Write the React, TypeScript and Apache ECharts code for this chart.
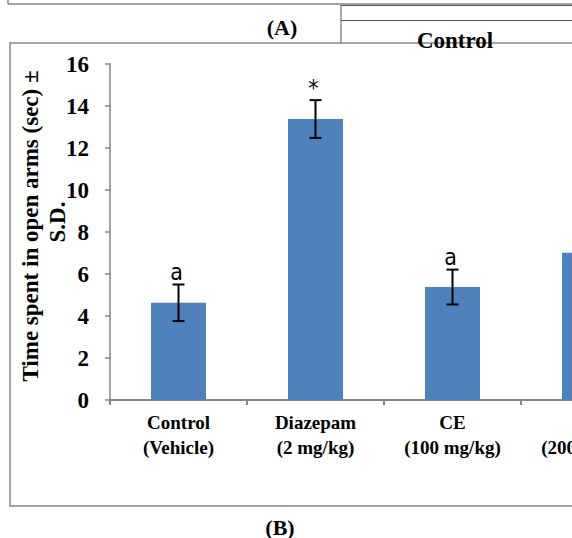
import React, { useEffect, useRef } from "react";
import * as echarts from "echarts";

const categories = ["Control\n(Vehicle)", "Diazepam\n(2 mg/kg)", "CE\n(100 mg/kg)", "CE\n(200 mg/kg)"];
const means = [4.63, 13.38, 5.38, 7.01];
const sds = [0.87, 0.9, 0.83, 0.85];
const sigLabels = ["a", "*", "a", ""];
const yTicks = { min: 0, max: 16, interval: 2 };

const SERIF = "'Liberation Serif', 'Times New Roman', serif";
const SANS = "'Liberation Sans Narrow', 'DejaVu Sans Condensed', 'Noto Sans', sans-serif";
const GRAY = "#868686";

export default function App() {
  const ref = useRef<HTMLDivElement>(null);
  useEffect(() => {
    if (!ref.current) return;
    const chart = echarts.init(ref.current, null, { renderer: "svg" });
    const errData = means.map((m, i) => [i, m, sds[i], sigLabels[i]]);
    chart.setOption({
      animation: false,
      backgroundColor: "#ffffff",
      grid: { left: 110, top: 64, width: 548, height: 336, containLabel: false },
      xAxis: {
        type: "category",
        data: categories,
        boundaryGap: true,
        axisLine: { lineStyle: { color: GRAY, width: 2 } },
        axisTick: { show: true, length: 5, lineStyle: { color: GRAY, width: 2 } },
        axisLabel: {
          interval: 0,
          margin: 10,
          fontFamily: SERIF,
          fontWeight: "bold",
          fontSize: 19,
          lineHeight: 25,
          color: "#000",
        },
      },
      yAxis: {
        type: "value",
        min: yTicks.min,
        max: yTicks.max,
        interval: yTicks.interval,
        axisLine: { show: true, lineStyle: { color: GRAY, width: 1.5 } },
        axisTick: { show: true, length: 5, lineStyle: { color: GRAY, width: 1.5 } },
        splitLine: { show: false },
        axisLabel: {
          margin: 21,
          fontFamily: SERIF,
          fontWeight: "bold",
          fontSize: 23,
          color: "#000",
        },
      },
      series: [
        {
          type: "bar",
          data: means,
          barWidth: 55,
          itemStyle: { color: "#4F81BD" },
        },
        {
          type: "custom",
          data: errData,
          z: 10,
          renderItem: (params: any, api: any) => {
            const idx = api.value(0);
            const m = api.value(1);
            const sd = api.value(2);
            const lab = sigLabels[params.dataIndex];
            const top = api.coord([idx, m + sd]);
            const bot = api.coord([idx, m - sd]);
            const half = 6;
            const style = { stroke: "#000", lineWidth: 2 };
            return {
              type: "group",
              children: [
                { type: "line", shape: { x1: top[0], y1: top[1], x2: bot[0], y2: bot[1] }, style },
                { type: "line", shape: { x1: top[0] - half, y1: top[1], x2: top[0] + half, y2: top[1] }, style },
                { type: "line", shape: { x1: bot[0] - half, y1: bot[1], x2: bot[0] + half, y2: bot[1] }, style },
                {
                  type: "text",
                  x: top[0] - 2,
                  y: top[1] - 1,
                  style: {
                    text: lab,
                    fill: "#000",
                    font: `23px ${SANS}`,
                    align: "center",
                    verticalAlign: "bottom",
                  },
                },
              ],
            };
          },
        },
      ],
      graphic: [
        { type: "line", shape: { x1: 8, y1: 4, x2: 700, y2: 4 }, style: { stroke: GRAY, lineWidth: 1.5 } },
        { type: "line", shape: { x1: 8, y1: 0, x2: 8, y2: 4 }, style: { stroke: GRAY, lineWidth: 1.5 } },
        { type: "line", shape: { x1: 341, y1: 5, x2: 341, y2: 43 }, style: { stroke: "#555", lineWidth: 1 } },
        { type: "line", shape: { x1: 341, y1: 5.5, x2: 700, y2: 5.5 }, style: { stroke: "#555", lineWidth: 1 } },
        { type: "line", shape: { x1: 341, y1: 20.5, x2: 700, y2: 20.5 }, style: { stroke: "#555", lineWidth: 1 } },
        {
          type: "text",
          x: 282,
          y: 27,
          style: { text: "(A)", font: `bold 22px ${SERIF}`, fill: "#000", align: "center", verticalAlign: "middle" },
        },
        {
          type: "rect",
          shape: { x: 10, y: 43, width: 680, height: 463 },
          style: { fill: "none", stroke: GRAY, lineWidth: 1.5 },
          z: 0,
        },
        {
          type: "text",
          x: 455,
          y: 40,
          z: 100,
          style: { text: "Control", font: `bold 23px ${SERIF}`, fill: "#000", align: "center", verticalAlign: "middle" },
        },
        {
          type: "text",
          x: 280,
          y: 527,
          style: { text: "(B)", font: `bold 22px ${SERIF}`, fill: "#000", align: "center", verticalAlign: "middle" },
        },
        {
          type: "text",
          x: 30,
          y: 226,
          rotation: Math.PI / 2,
          style: {
            text: "Time spent in open arms (sec) ±",
            font: `bold 23px ${SERIF}`,
            fill: "#000",
            align: "center",
            verticalAlign: "middle",
          },
        },
        {
          type: "text",
          x: 57,
          y: 222,
          rotation: Math.PI / 2,
          style: { text: "S.D.", font: `bold 23px ${SERIF}`, fill: "#000", align: "center", verticalAlign: "middle" },
        },
      ],
    });
    return () => chart.dispose();
  }, []);
  return (
    <div style={{ position: "absolute", left: 0, top: 0, width: 572, height: 538, background: "#fff", overflow: "hidden" }}>
      <div ref={ref} style={{ position: "absolute", left: 0, top: 0, width: 700, height: 538 }} />
    </div>
  );
}
